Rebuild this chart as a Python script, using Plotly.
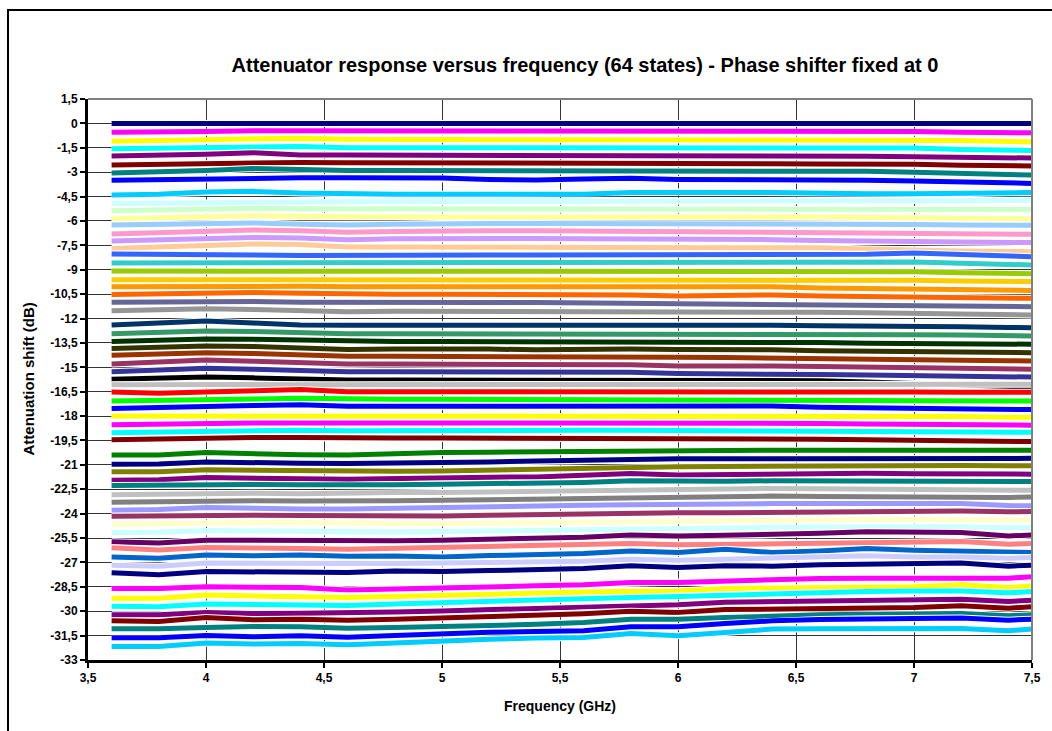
import plotly.graph_objects as go

freq_ghz = [3.6, 3.8, 4.0, 4.2, 4.4, 4.6, 4.8, 5.0, 5.2, 5.4, 5.6, 5.8, 6.0, 6.2, 6.4, 6.6, 6.8, 7.0, 7.2, 7.4, 7.5]

x_tickvals = [3.5, 4.0, 4.5, 5.0, 5.5, 6.0, 6.5, 7.0, 7.5]
x_ticktext = ["3,5", "4", "4,5", "5", "5,5", "6", "6,5", "7", "7,5"]
y_tickvals = [1.5, 0, -1.5, -3, -4.5, -6, -7.5, -9, -10.5, -12, -13.5, -15, -16.5, -18, -19.5,
              -21, -22.5, -24, -25.5, -27, -28.5, -30, -31.5, -33]
y_ticktext = ["1,5", "0", "-1,5", "-3", "-4,5", "-6", "-7,5", "-9", "-10,5", "-12", "-13,5", "-15",
              "-16,5", "-18", "-19,5", "-21", "-22,5", "-24", "-25,5", "-27", "-28,5", "-30", "-31,5", "-33"]

s01 = [0, 0, 0, 0, 0, 0, 0, 0, 0, 0, 0, 0, 0, 0, 0, 0, 0, 0, 0, 0, 0]
s02 = [-0.55, -0.55, -0.5, -0.45, -0.45, -0.5, -0.5, -0.52, -0.52, -0.52, -0.48, -0.45, -0.52, -0.5, -0.52, -0.5, -0.5, -0.5, -0.55, -0.58, -0.58]
s03 = [-1.1, -1.08, -1.0, -0.95, -0.92, -0.98, -0.98, -0.98, -0.98, -0.98, -0.98, -0.98, -0.98, -0.98, -0.98, -0.98, -0.98, -1.0, -1.05, -1.12, -1.13]
s04 = [-1.56, -1.54, -1.48, -1.45, -1.42, -1.5, -1.5, -1.5, -1.5, -1.5, -1.5, -1.5, -1.5, -1.5, -1.5, -1.5, -1.5, -1.52, -1.6, -1.65, -1.66]
s05 = [-2.0, -1.98, -1.9, -1.8, -1.95, -1.95, -1.95, -1.95, -1.95, -1.95, -1.95, -1.95, -1.95, -1.95, -1.95, -2.0, -2.02, -2.05, -2.1, -2.12, -2.13]
s06 = [-2.56, -2.52, -2.42, -2.4, -2.4, -2.42, -2.42, -2.42, -2.42, -2.42, -2.42, -2.42, -2.42, -2.45, -2.48, -2.5, -2.5, -2.52, -2.58, -2.62, -2.62]
s07 = [-3.05, -3.0, -2.9, -2.78, -2.85, -2.9, -2.9, -2.9, -2.9, -2.9, -2.9, -2.9, -2.9, -2.92, -2.92, -2.92, -2.95, -3.0, -3.1, -3.15, -3.18]
s08 = [-3.5, -3.45, -3.38, -3.35, -3.35, -3.35, -3.35, -3.36, -3.45, -3.48, -3.42, -3.38, -3.45, -3.45, -3.45, -3.45, -3.5, -3.55, -3.6, -3.68, -3.69]
s09 = [-4.4, -4.35, -4.22, -4.18, -4.28, -4.35, -4.35, -4.35, -4.35, -4.35, -4.35, -4.25, -4.22, -4.25, -4.25, -4.3, -4.32, -4.32, -4.32, -4.25, -4.25]
s10 = [-4.92, -4.9, -4.82, -4.8, -4.82, -4.82, -4.82, -4.82, -4.82, -4.82, -4.82, -4.8, -4.78, -4.78, -4.78, -4.78, -4.78, -4.75, -4.75, -4.73, -4.73]
s11 = [-5.37, -5.33, -5.25, -5.22, -5.25, -5.27, -5.27, -5.27, -5.27, -5.27, -5.27, -5.27, -5.27, -5.27, -5.27, -5.27, -5.28, -5.3, -5.3, -5.3, -5.3]
s12 = [-5.86, -5.8, -5.7, -5.68, -5.72, -5.75, -5.75, -5.75, -5.75, -5.75, -5.75, -5.72, -5.7, -5.72, -5.72, -5.75, -5.78, -5.82, -5.85, -5.86, -5.86]
s13 = [-6.25, -6.2, -6.1, -6.12, -6.2, -6.25, -6.2, -6.15, -6.15, -6.15, -6.15, -6.15, -6.15, -6.15, -6.15, -6.18, -6.2, -6.22, -6.25, -6.27, -6.27]
s14 = [-6.8, -6.72, -6.62, -6.56, -6.6, -6.7, -6.65, -6.6, -6.6, -6.6, -6.62, -6.62, -6.62, -6.65, -6.65, -6.7, -6.75, -6.75, -6.78, -6.82, -6.82]
s15 = [-7.23, -7.18, -7.08, -7.02, -7.05, -7.15, -7.1, -7.08, -7.08, -7.08, -7.1, -7.1, -7.1, -7.12, -7.15, -7.2, -7.25, -7.28, -7.3, -7.33, -7.33]
s16 = [-7.7, -7.6, -7.5, -7.42, -7.45, -7.6, -7.6, -7.6, -7.6, -7.6, -7.6, -7.6, -7.6, -7.6, -7.62, -7.65, -7.72, -7.8, -7.85, -7.88, -7.89]
s17 = [-8.03, -8.03, -8.03, -8.1, -8.12, -8.1, -8.1, -8.1, -8.1, -8.1, -8.1, -8.1, -8.1, -8.1, -8.1, -8.1, -8.05, -7.97, -8.05, -8.18, -8.2]
s18 = [-8.59, -8.59, -8.57, -8.57, -8.58, -8.58, -8.58, -8.58, -8.58, -8.58, -8.58, -8.58, -8.58, -8.58, -8.58, -8.56, -8.54, -8.52, -8.6, -8.68, -8.71]
s19 = [-9.08, -9.08, -9.08, -9.08, -9.1, -9.12, -9.1, -9.08, -9.1, -9.12, -9.12, -9.1, -9.1, -9.1, -9.08, -9.1, -9.12, -9.12, -9.18, -9.24, -9.24]
s20 = [-9.61, -9.61, -9.6, -9.6, -9.6, -9.6, -9.6, -9.6, -9.6, -9.6, -9.6, -9.6, -9.62, -9.6, -9.58, -9.63, -9.65, -9.65, -9.7, -9.73, -9.73]
s21 = [-10.04, -10.02, -10.0, -10.0, -10.02, -10.04, -10.04, -10.04, -10.04, -10.04, -10.04, -10.05, -10.08, -10.06, -10.05, -10.12, -10.15, -10.15, -10.2, -10.25, -10.27]
s22 = [-10.53, -10.48, -10.4, -10.4, -10.45, -10.5, -10.5, -10.5, -10.5, -10.5, -10.5, -10.55, -10.62, -10.55, -10.55, -10.62, -10.65, -10.68, -10.72, -10.75, -10.76]
s23 = [-11.0, -10.98, -10.92, -10.95, -11.0, -11.02, -11.02, -11.02, -11.02, -11.02, -11.04, -11.05, -11.1, -11.1, -11.12, -11.15, -11.18, -11.2, -11.22, -11.26, -11.27]
s24 = [-11.52, -11.48, -11.4, -11.45, -11.52, -11.58, -11.55, -11.55, -11.55, -11.55, -11.55, -11.55, -11.58, -11.6, -11.6, -11.62, -11.65, -11.7, -11.75, -11.78, -11.78]
s25 = [-12.4, -12.3, -12.15, -12.28, -12.4, -12.42, -12.42, -12.35, -12.35, -12.35, -12.35, -12.38, -12.42, -12.38, -12.42, -12.45, -12.45, -12.45, -12.5, -12.55, -12.56]
s26 = [-12.93, -12.88, -12.77, -12.8, -12.88, -12.93, -12.93, -12.93, -12.93, -12.93, -12.93, -12.93, -12.93, -12.93, -12.93, -12.98, -13.0, -13.0, -13.02, -13.1, -13.07]
s27 = [-13.42, -13.36, -13.26, -13.28, -13.35, -13.42, -13.42, -13.42, -13.42, -13.42, -13.42, -13.42, -13.42, -13.45, -13.42, -13.48, -13.52, -13.55, -13.56, -13.58, -13.58]
s28 = [-13.85, -13.8, -13.69, -13.72, -13.8, -13.9, -13.88, -13.85, -13.88, -13.92, -13.88, -13.88, -13.9, -13.88, -13.92, -13.98, -14.0, -14.02, -14.05, -14.1, -14.1]
s29 = [-14.26, -14.2, -14.1, -14.15, -14.25, -14.32, -14.32, -14.32, -14.32, -14.32, -14.34, -14.36, -14.38, -14.4, -14.42, -14.45, -14.5, -14.53, -14.56, -14.6, -14.61]
s30 = [-14.8, -14.7, -14.55, -14.62, -14.72, -14.8, -14.8, -14.8, -14.8, -14.8, -14.8, -14.85, -14.92, -14.9, -14.92, -14.95, -15.0, -15.05, -15.08, -15.12, -15.12]
s31 = [-15.27, -15.2, -15.06, -15.12, -15.2, -15.27, -15.27, -15.27, -15.27, -15.27, -15.27, -15.3, -15.38, -15.38, -15.4, -15.45, -15.48, -15.52, -15.55, -15.58, -15.6]
s32 = [-15.74, -15.7, -15.6, -15.65, -15.72, -15.78, -15.78, -15.78, -15.78, -15.78, -15.78, -15.78, -15.78, -15.78, -15.8, -15.82, -15.9, -16.0, -16.1, -16.2, -16.22]
s33 = [-16.07, -16.05, -16.02, -16.05, -16.07, -16.07, -16.07, -16.07, -16.07, -16.07, -16.07, -16.07, -16.07, -16.07, -16.07, -16.05, -16.03, -16.0, -16.02, -16.04, -16.04]
s34 = [-16.52, -16.6, -16.52, -16.45, -16.37, -16.5, -16.5, -16.5, -16.5, -16.5, -16.5, -16.5, -16.5, -16.45, -16.45, -16.48, -16.5, -16.52, -16.54, -16.54, -16.54]
s35 = [-17.07, -17.05, -17.0, -16.95, -16.9, -16.97, -16.97, -16.97, -16.97, -16.97, -16.97, -16.97, -16.97, -17.0, -17.0, -17.02, -17.04, -17.05, -17.06, -17.07, -17.07]
s36 = [-17.54, -17.5, -17.42, -17.35, -17.3, -17.4, -17.4, -17.4, -17.4, -17.4, -17.4, -17.35, -17.42, -17.4, -17.38, -17.45, -17.5, -17.52, -17.55, -17.6, -17.6]
s37 = [-18.0, -18.0, -17.98, -17.97, -17.97, -17.97, -17.97, -17.97, -17.97, -17.97, -17.97, -17.98, -17.97, -17.97, -17.97, -17.97, -17.98, -18.0, -18.03, -18.07, -18.07]
s38 = [-18.54, -18.5, -18.42, -18.42, -18.42, -18.42, -18.4, -18.4, -18.4, -18.4, -18.4, -18.4, -18.42, -18.42, -18.42, -18.45, -18.48, -18.5, -18.52, -18.56, -18.56]
s39 = [-19.03, -19.0, -18.9, -18.87, -18.87, -18.9, -18.88, -18.87, -18.87, -18.87, -18.87, -18.87, -18.88, -18.88, -18.88, -18.9, -18.93, -18.95, -18.98, -19.0, -19.0]
s40 = [-19.46, -19.42, -19.32, -19.32, -19.32, -19.36, -19.35, -19.35, -19.35, -19.35, -19.35, -19.38, -19.4, -19.35, -19.38, -19.42, -19.45, -19.5, -19.52, -19.56, -19.57]
s41 = [-20.4, -20.4, -20.24, -20.34, -20.38, -20.4, -20.3, -20.24, -20.22, -20.2, -20.16, -20.1, -20.14, -20.12, -20.1, -20.1, -20.1, -20.1, -20.06, -20.1, -20.1]
s42 = [-20.96, -20.94, -20.82, -20.88, -20.9, -20.92, -20.9, -20.86, -20.82, -20.76, -20.7, -20.66, -20.62, -20.62, -20.62, -20.6, -20.58, -20.58, -20.58, -20.6, -20.6]
s43 = [-21.43, -21.42, -21.3, -21.34, -21.38, -21.43, -21.4, -21.37, -21.32, -21.27, -21.2, -21.12, -21.12, -21.1, -21.08, -21.06, -21.05, -21.05, -21.04, -21.06, -21.06]
s44 = [-21.94, -21.92, -21.78, -21.84, -21.86, -21.88, -21.82, -21.78, -21.76, -21.74, -21.66, -21.53, -21.63, -21.6, -21.55, -21.52, -21.52, -21.54, -21.54, -21.58, -21.57]
s45 = [-22.27, -22.25, -22.16, -22.2, -22.22, -22.25, -22.22, -22.19, -22.17, -22.15, -22.08, -21.98, -22.02, -22.0, -21.98, -21.98, -22.0, -22.0, -22.0, -22.04, -22.03]
s46 = [-22.83, -22.8, -22.72, -22.75, -22.78, -22.72, -22.7, -22.7, -22.66, -22.6, -22.56, -22.53, -22.5, -22.47, -22.45, -22.47, -22.5, -22.5, -22.5, -22.56, -22.56]
s47 = [-23.3, -23.26, -23.18, -23.2, -23.22, -23.24, -23.2, -23.18, -23.14, -23.1, -23.05, -23.01, -22.97, -22.94, -22.92, -22.95, -22.98, -22.98, -22.98, -23.0, -22.97]
s48 = [-23.79, -23.75, -23.62, -23.68, -23.72, -23.72, -23.66, -23.62, -23.58, -23.52, -23.48, -23.46, -23.42, -23.4, -23.38, -23.38, -23.38, -23.38, -23.38, -23.5, -23.52]
s49 = [-24.16, -24.14, -24.06, -24.1, -24.12, -24.14, -24.14, -24.14, -24.1, -24.05, -24.02, -24.0, -23.95, -23.95, -23.92, -23.9, -23.86, -23.82, -23.84, -23.88, -23.87]
s50 = [-24.65, -24.62, -24.52, -24.55, -24.55, -24.61, -24.61, -24.61, -24.58, -24.55, -24.5, -24.45, -24.45, -24.42, -24.4, -24.38, -24.36, -24.36, -24.36, -24.4, -24.4]
s51 = [-25.16, -25.14, -25.04, -25.08, -25.08, -25.16, -25.13, -25.1, -25.06, -25.02, -24.96, -24.9, -24.9, -24.86, -24.84, -24.82, -24.8, -24.8, -24.8, -24.86, -24.85]
s52 = [-25.73, -25.81, -25.63, -25.65, -25.65, -25.71, -25.67, -25.63, -25.58, -25.52, -25.45, -25.32, -25.37, -25.33, -25.3, -25.2, -25.12, -25.14, -25.16, -25.37, -25.32]
s53 = [-26.1, -26.24, -26.08, -26.15, -26.15, -26.19, -26.14, -26.08, -26.04, -26.0, -25.96, -25.84, -25.92, -25.88, -25.84, -25.8, -25.76, -25.72, -25.72, -25.88, -25.84]
s54 = [-26.66, -26.74, -26.55, -26.59, -26.55, -26.62, -26.6, -26.66, -26.58, -26.5, -26.45, -26.29, -26.39, -26.19, -26.39, -26.29, -26.15, -26.25, -26.29, -26.39, -26.39]
s55 = [-27.17, -27.23, -27.04, -27.06, -27.04, -27.1, -27.07, -27.04, -27.0, -26.98, -26.93, -26.8, -26.86, -26.8, -26.74, -26.66, -26.59, -26.66, -26.66, -26.74, -26.7]
s56 = [-27.64, -27.76, -27.56, -27.58, -27.58, -27.62, -27.52, -27.56, -27.5, -27.44, -27.38, -27.21, -27.31, -27.21, -27.23, -27.15, -27.11, -27.03, -27.03, -27.23, -27.17]
s57 = [-28.6, -28.6, -28.5, -28.5, -28.54, -28.7, -28.62, -28.58, -28.52, -28.44, -28.38, -28.23, -28.23, -28.13, -28.05, -27.99, -27.97, -27.97, -27.93, -27.97, -27.88]
s58 = [-29.2, -29.2, -29.01, -29.05, -29.05, -29.15, -29.1, -29.05, -28.95, -28.88, -28.82, -28.75, -28.75, -28.6, -28.58, -28.54, -28.5, -28.5, -28.38, -28.54, -28.46]
s59 = [-29.69, -29.73, -29.56, -29.6, -29.62, -29.65, -29.55, -29.46, -29.4, -29.34, -29.25, -29.15, -29.1, -29.01, -28.91, -28.85, -28.79, -28.75, -28.75, -28.87, -28.79]
s60 = [-30.22, -30.22, -30.08, -30.14, -30.12, -30.12, -30.05, -29.98, -29.9, -29.83, -29.78, -29.7, -29.6, -29.45, -29.42, -29.36, -29.32, -29.32, -29.26, -29.4, -29.32]
s61 = [-30.59, -30.63, -30.39, -30.53, -30.49, -30.55, -30.5, -30.42, -30.3, -30.22, -30.15, -30.0, -30.08, -29.9, -29.87, -29.81, -29.77, -29.77, -29.67, -29.81, -29.73]
s62 = [-31.08, -31.08, -31.0, -30.94, -30.96, -31.04, -31.0, -30.96, -30.88, -30.8, -30.7, -30.49, -30.49, -30.39, -30.28, -30.22, -30.18, -30.18, -30.14, -30.28, -30.22]
s63 = [-31.63, -31.63, -31.49, -31.57, -31.51, -31.6, -31.5, -31.37, -31.3, -31.25, -31.2, -30.96, -30.96, -30.76, -30.59, -30.51, -30.47, -30.42, -30.42, -30.55, -30.49]
s64 = [-32.17, -32.17, -31.96, -32.02, -31.98, -32.06, -31.95, -31.82, -31.72, -31.65, -31.61, -31.37, -31.51, -31.31, -31.1, -31.08, -31.06, -31.04, -31.06, -31.2, -31.1]

series_colors = [
    "#000080", "#FF00FF", "#FFFF00", "#00FFFF", "#800080", "#800000", "#008080", "#0000FF",
    "#00CCFF", "#CCFFFF", "#CCFFCC", "#FFFF99", "#99CCFF", "#FF99CC", "#CC99FF", "#FFCC99",
    "#3366FF", "#33CCCC", "#99CC00", "#FFCC00", "#FF9900", "#FF6600", "#666699", "#969696",
    "#003366", "#339966", "#003300", "#333300", "#993300", "#993366", "#333399", "#000000",
    "#C0C0C0", "#FF0000", "#00FF00", "#0000FF", "#FFFF00", "#FF00FF", "#00FFFF", "#800000",
    "#008000", "#000080", "#808000", "#800080", "#008080", "#C0C0C0", "#808080", "#9999FF",
    "#993366", "#FFFFCC", "#CCFFFF", "#660066", "#FF8080", "#0066CC", "#CCCCFF", "#000080",
    "#FF00FF", "#FFFF00", "#00FFFF", "#800080", "#800000", "#008080", "#0000FF", "#00CCFF",
]

states = [s01, s02, s03, s04, s05, s06, s07, s08, s09, s10, s11, s12, s13, s14, s15, s16,
          s17, s18, s19, s20, s21, s22, s23, s24, s25, s26, s27, s28, s29, s30, s31, s32,
          s33, s34, s35, s36, s37, s38, s39, s40, s41, s42, s43, s44, s45, s46, s47, s48,
          s49, s50, s51, s52, s53, s54, s55, s56, s57, s58, s59, s60, s61, s62, s63, s64]

FONT = "Liberation Sans, Arial, sans-serif"

fig = go.Figure()
for i, (vals, col) in enumerate(zip(states, series_colors)):
    fig.add_trace(go.Scatter(x=freq_ghz, y=vals, mode="lines",
                             line=dict(color="white", width=7),
                             hoverinfo="skip", showlegend=False))
    fig.add_trace(go.Scatter(x=freq_ghz, y=vals, mode="lines", name="State %d" % (i + 1),
                             line=dict(color=col, width=5), showlegend=False))

axis_common = dict(
    showgrid=True, gridcolor="#333333", gridwidth=1,
    showline=True, linecolor="black", linewidth=3,
    ticks="outside", ticklen=5, tickwidth=2, tickcolor="black",
    tickfont=dict(family=FONT, size=12, color="black", weight="bold"),
    zeroline=False,
)

fig.update_layout(
    width=1052, height=731,
    margin=dict(l=88, r=20, t=99, b=71, pad=0),
    paper_bgcolor="white", plot_bgcolor="white",
    showlegend=False,
    hovermode=False,
    title=dict(text="Attenuator response versus frequency (64 states) - Phase shifter fixed at 0",
               font=dict(family=FONT, size=20, color="black", weight="bold"),
               x=585 / 1052, xref="container", xanchor="center",
               y=1 - 65 / 731, yref="container", yanchor="middle"),
    xaxis=dict(range=[3.5, 7.5], tickvals=x_tickvals, ticktext=x_ticktext, **axis_common),
    yaxis=dict(range=[-33, 1.5], tickvals=y_tickvals, ticktext=y_ticktext, **axis_common),
    annotations=[
        dict(text="Attenuation shift (dB)", xref="paper", yref="paper",
             x=(28 - 88) / 944, y=0.5, xanchor="center", yanchor="middle",
             textangle=-90, showarrow=False,
             font=dict(family=FONT, size=15, color="black", weight="bold")),
        dict(text="Frequency (GHz)", xref="paper", yref="paper",
             x=0.5, y=(660 - 706) / 561, xanchor="center", yanchor="middle",
             showarrow=False,
             font=dict(family=FONT, size=14, color="black", weight="bold")),
    ],
    shapes=[
        dict(type="line", xref="paper", yref="paper", x0=0, x1=1, y0=1, y1=1,
             line=dict(color="#808080", width=2), layer="above"),
        dict(type="line", xref="paper", yref="paper", x0=1, x1=1, y0=0, y1=1,
             line=dict(color="#808080", width=2), layer="above"),
        dict(type="rect", xref="paper", yref="paper",
             x0=(8 - 88) / 944, x1=1.2, y0=(660 - 10) / 561, y1=-0.3,
             line=dict(color="black", width=2), fillcolor="rgba(0,0,0,0)", layer="above"),
    ],
)

fig.write_html("out.html")
